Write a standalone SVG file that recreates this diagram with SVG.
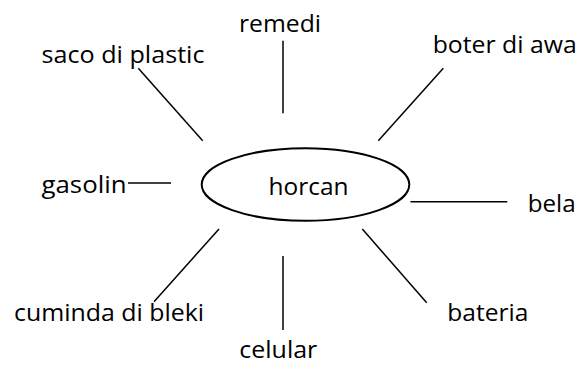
<svg xmlns="http://www.w3.org/2000/svg" width="582" height="367" viewBox="0 0 582 367">
<style>
text{font-family:"Open Sans","Noto Sans","DejaVu Sans",sans-serif;font-size:24px;fill:#000}
.c line{stroke:#000;stroke-width:1.5;fill:none}
</style>
<rect width="582" height="367" fill="#fff"/>
<g id="center">
<ellipse cx="305.5" cy="184.5" rx="103.8" ry="36.3" fill="none" stroke="#000" stroke-width="2"/>
<text x="268.5" y="195" textLength="80" lengthAdjust="spacingAndGlyphs">horcan</text>
</g>
<g class="c" id="connectors">
<line x1="138.3" y1="68.3" x2="202.7" y2="140.7"/>
<line x1="283" y1="40.7" x2="283" y2="113.3"/>
<line x1="443.3" y1="68.3" x2="378.3" y2="140.7"/>
<line x1="128" y1="183" x2="171" y2="183"/>
<line x1="410.5" y1="201.7" x2="507.3" y2="201.7"/>
<line x1="219" y1="229" x2="154" y2="301.7"/>
<line x1="283" y1="256" x2="283" y2="330"/>
<line x1="362.3" y1="229" x2="426.7" y2="302.7"/>
</g>
<g id="remedi"><text x="239" y="32" textLength="82" lengthAdjust="spacingAndGlyphs">remedi</text></g>
<g id="saco"><text x="41.5" y="62.7" textLength="163" lengthAdjust="spacingAndGlyphs">saco di plastic</text></g>
<g id="boter"><text x="432.7" y="53" textLength="144" lengthAdjust="spacingAndGlyphs">boter di awa</text></g>
<g id="gasolin"><text x="41.5" y="193" textLength="85" lengthAdjust="spacingAndGlyphs">gasolin</text></g>
<g id="bela"><text x="527.7" y="212.3" textLength="48" lengthAdjust="spacingAndGlyphs">bela</text></g>
<g id="cuminda"><text x="14" y="321" textLength="190" lengthAdjust="spacingAndGlyphs">cuminda di bleki</text></g>
<g id="celular"><text x="239.3" y="358.3" textLength="78" lengthAdjust="spacingAndGlyphs">celular</text></g>
<g id="bateria"><text x="447.3" y="321" textLength="81" lengthAdjust="spacingAndGlyphs">bateria</text></g>
</svg>
